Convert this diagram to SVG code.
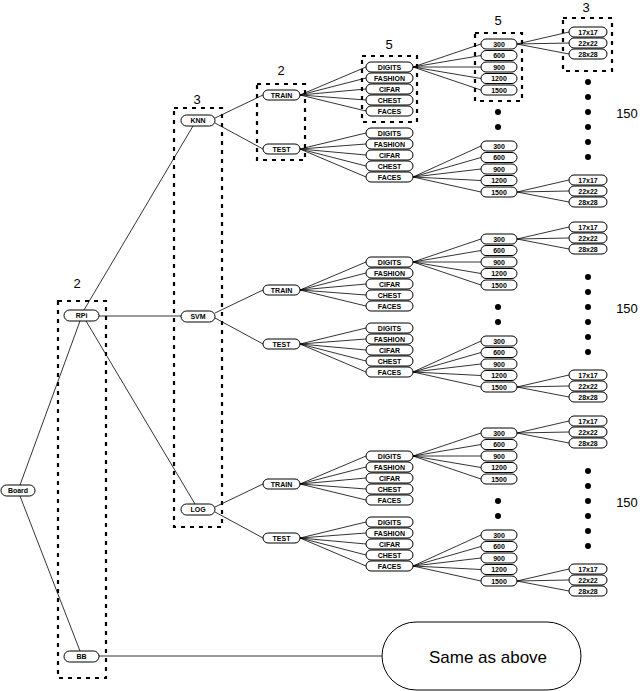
<svg xmlns="http://www.w3.org/2000/svg" xmlns:xlink="http://www.w3.org/1999/xlink" width="640" height="691" viewBox="0 0 640 691">
<style>
.p{fill:#fff;stroke:#000;stroke-width:1}
.t{font-family:"Liberation Sans",Arial,sans-serif;font-size:7px;font-weight:bold;text-anchor:middle}
.e{stroke:#000;stroke-width:0.8;fill:none}
.d{fill:none;stroke:#000;stroke-width:2.2;stroke-dasharray:4 5}
.n{font-family:"Liberation Sans",Arial,sans-serif;font-size:13px;text-anchor:middle}
</style>
<defs>
<g id="block">
<g class="e">
<path d="M215,118L263,95M215,123L263,149"/>
<path d="M300,95L366,67M300,95L366,78M300,95L366,89M300,95L366,100M300,95L366,111"/>
<path d="M300,149L366,133M300,149L366,144M300,149L366,155M300,149L366,166M300,149L366,177"/>
<path d="M413,67L481,44M413,67L481,55.5M413,67L481,67M413,67L481,78.5M413,67L481,90"/>
<path d="M413,177L481,146M413,177L481,157.5M413,177L481,169M413,177L481,180.5M413,177L481,192"/>
<path d="M517,44L569,32M517,44L569,43M517,44L569,54"/>
<path d="M517,192L569,180M517,192L569,191M517,192L569,202"/>
</g>
<g id="train"><rect class="p" x="263" y="90" width="37" height="10" rx="5"/><text class="t" x="281.5" y="97.5">TRAIN</text></g>
<g id="test"><rect class="p" x="263" y="144" width="37" height="10" rx="5"/><text class="t" x="281.5" y="151.5">TEST</text></g>
<g id="ds-train">
<rect class="p" x="366" y="62" width="47" height="10" rx="5"/><text class="t" x="389.5" y="69.5">DIGITS</text>
<rect class="p" x="366" y="73" width="47" height="10" rx="5"/><text class="t" x="389.5" y="80.5">FASHION</text>
<rect class="p" x="366" y="84" width="47" height="10" rx="5"/><text class="t" x="389.5" y="91.5">CIFAR</text>
<rect class="p" x="366" y="95" width="47" height="10" rx="5"/><text class="t" x="389.5" y="102.5">CHEST</text>
<rect class="p" x="366" y="106" width="47" height="10" rx="5"/><text class="t" x="389.5" y="113.5">FACES</text>
</g>
<g id="ds-test">
<rect class="p" x="366" y="128" width="47" height="10" rx="5"/><text class="t" x="389.5" y="135.5">DIGITS</text>
<rect class="p" x="366" y="139" width="47" height="10" rx="5"/><text class="t" x="389.5" y="146.5">FASHION</text>
<rect class="p" x="366" y="150" width="47" height="10" rx="5"/><text class="t" x="389.5" y="157.5">CIFAR</text>
<rect class="p" x="366" y="161" width="47" height="10" rx="5"/><text class="t" x="389.5" y="168.5">CHEST</text>
<rect class="p" x="366" y="172" width="47" height="10" rx="5"/><text class="t" x="389.5" y="179.5">FACES</text>
</g>
<g id="sz-train">
<rect class="p" x="481" y="39" width="36" height="10" rx="5"/><text class="t" x="499" y="46.5">300</text>
<rect class="p" x="481" y="50.5" width="36" height="10" rx="5"/><text class="t" x="499" y="58">600</text>
<rect class="p" x="481" y="62" width="36" height="10" rx="5"/><text class="t" x="499" y="69.5">900</text>
<rect class="p" x="481" y="73.5" width="36" height="10" rx="5"/><text class="t" x="499" y="81">1200</text>
<rect class="p" x="481" y="85" width="36" height="10" rx="5"/><text class="t" x="499" y="92.5">1500</text>
</g>
<g id="sz-test">
<rect class="p" x="481" y="141" width="36" height="10" rx="5"/><text class="t" x="499" y="148.5">300</text>
<rect class="p" x="481" y="152.5" width="36" height="10" rx="5"/><text class="t" x="499" y="160">600</text>
<rect class="p" x="481" y="164" width="36" height="10" rx="5"/><text class="t" x="499" y="171.5">900</text>
<rect class="p" x="481" y="175.5" width="36" height="10" rx="5"/><text class="t" x="499" y="183">1200</text>
<rect class="p" x="481" y="187" width="36" height="10" rx="5"/><text class="t" x="499" y="194.5">1500</text>
</g>
<g id="res-train">
<rect class="p" x="569" y="27" width="38" height="10" rx="5"/><text class="t" x="588" y="34.5">17x17</text>
<rect class="p" x="569" y="38" width="38" height="10" rx="5"/><text class="t" x="588" y="45.5">22x22</text>
<rect class="p" x="569" y="49" width="38" height="10" rx="5"/><text class="t" x="588" y="56.5">28x28</text>
</g>
<g id="res-test">
<rect class="p" x="569" y="175" width="38" height="10" rx="5"/><text class="t" x="588" y="182.5">17x17</text>
<rect class="p" x="569" y="186" width="38" height="10" rx="5"/><text class="t" x="588" y="193.5">22x22</text>
<rect class="p" x="569" y="197" width="38" height="10" rx="5"/><text class="t" x="588" y="204.5">28x28</text>
</g>
<g id="dots">
<circle cx="498" cy="112" r="3"/><circle cx="498" cy="127" r="3"/>
<circle cx="588" cy="82" r="3"/><circle cx="588" cy="97" r="3"/><circle cx="588" cy="112" r="3"/><circle cx="588" cy="127" r="3"/><circle cx="588" cy="142" r="3"/><circle cx="588" cy="157" r="3"/>
<text class="n" x="627" y="118">150</text>
</g>
</g>
</defs>
<g id="connectors" class="e">
<path d="M20,485L80,321M20,496L80,651"/>
<path d="M84,310L193,126M99,316L181,316M86,321L195,504"/>
<path d="M99,656L382,656"/>
</g>
<use xlink:href="#block" href="#block"/>
<use xlink:href="#block" href="#block" transform="translate(0,195)"/>
<use xlink:href="#block" href="#block" transform="translate(0,389)"/>
<g id="board"><rect class="p" x="1" y="485" width="34" height="11" rx="5.5"/><text class="t" x="18" y="493">Board</text></g>
<g id="rpi"><rect class="p" x="64" y="310" width="35" height="11" rx="5.5"/><text class="t" x="81.5" y="318">RPi</text></g>
<g id="bb"><rect class="p" x="64" y="651" width="35" height="11" rx="5.5"/><text class="t" x="81.5" y="659">BB</text></g>
<g id="knn"><rect class="p" x="181" y="115" width="34" height="11" rx="5.5"/><text class="t" x="198" y="123">KNN</text></g>
<g id="svm"><rect class="p" x="181" y="311" width="34" height="11" rx="5.5"/><text class="t" x="198" y="319">SVM</text></g>
<g id="log"><rect class="p" x="181" y="504" width="34" height="11" rx="5.5"/><text class="t" x="198" y="512">LOG</text></g>
<g id="same"><rect class="p" x="382" y="622" width="199" height="68" rx="34"/><text x="488" y="663" style="font-family:'Liberation Sans',Arial,sans-serif;font-size:17px;text-anchor:middle">Same as above</text></g>
<g id="groups">
<rect class="d" x="58" y="301" width="48" height="377"/><text class="n" x="77" y="288">2</text>
<rect class="d" x="174" y="108" width="48" height="419"/><text class="n" x="197" y="104">3</text>
<rect class="d" x="257" y="84" width="48" height="76"/><text class="n" x="281" y="75">2</text>
<rect class="d" x="362" y="56" width="55" height="66"/><text class="n" x="389" y="49">5</text>
<rect class="d" x="475" y="33" width="47" height="68"/><text class="n" x="498" y="25">5</text>
<rect class="d" x="563" y="18" width="49" height="53"/><text class="n" x="586" y="12">3</text>
</g>
</svg>
